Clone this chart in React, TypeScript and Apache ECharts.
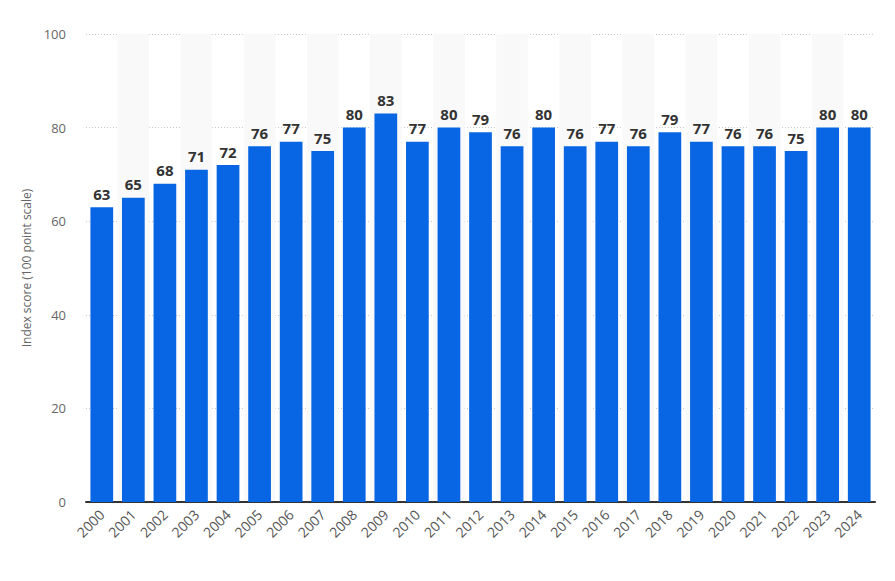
import React, { useEffect, useRef } from "react";
import * as echarts from "echarts";

const years = ["2000","2001","2002","2003","2004","2005","2006","2007","2008","2009","2010","2011","2012","2013","2014","2015","2016","2017","2018","2019","2020","2021","2022","2023","2024"];
const scores = [63,65,68,71,72,76,77,75,80,83,77,80,79,76,80,76,77,76,79,77,76,76,75,80,80];
const yAxisName = "Index score (100 point scale)";

export default function App() {
  const ref = useRef<HTMLDivElement>(null);
  useEffect(() => {
    if (!ref.current) return;
    const chart = echarts.init(ref.current, null, { renderer: "svg" });
    chart.setOption({
      animation: false,
      textStyle: { fontFamily: "Open Sans" },
      grid: { left: 78, right: 12, top: 26, bottom: 71 },
      xAxis: {
        type: "category",
        data: years,
        axisTick: { show: false },
        axisLine: { lineStyle: { color: "#333", width: 2 } },
        axisLabel: { rotate: 45, color: "#555", fontSize: 14, margin: 10, interval: 0 },
        splitArea: { show: true, areaStyle: { color: ["rgba(0,0,0,0)", "#f9f9f9"] } },
      },
      yAxis: {
        type: "value",
        min: 0,
        max: 100,
        interval: 20,
        name: yAxisName,
        nameLocation: "middle",
        nameGap: 53,
        nameTextStyle: { color: "#666", fontSize: 12 },
        axisLine: { show: false },
        axisTick: { show: false },
        axisLabel: { color: "#666", fontSize: 13, margin: 20 },
        splitLine: { lineStyle: { color: "#c8c8c8", type: [1, 2] } },
      },
      series: [
        {
          type: "bar",
          data: scores,
          barWidth: "72%",
          itemStyle: { color: "#0866e4" },
          label: { show: true, position: "top", color: "#333", fontWeight: "bold", fontSize: 15, distance: 6 },
        },
      ],
    });
    return () => chart.dispose();
  }, []);
  return <div ref={ref} style={{ width: 879, height: 565 }} />;
}
